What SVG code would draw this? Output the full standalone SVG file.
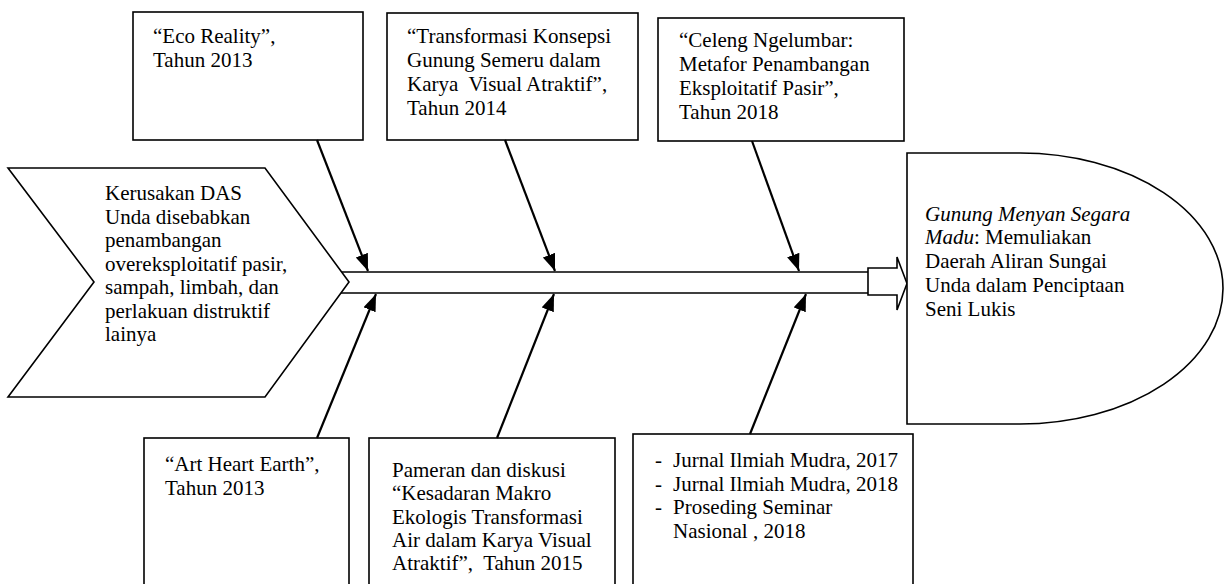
<svg xmlns="http://www.w3.org/2000/svg" width="1226" height="584" viewBox="0 0 1226 584">
<defs>
<marker id="ah" markerUnits="userSpaceOnUse" markerWidth="18" markerHeight="14" refX="17" refY="6.5" orient="auto">
<path d="M0,0 L17,6.5 L0,13 Z" fill="#000"/>
</marker>
<style>
.box{fill:#fff;stroke:#000;stroke-width:1.6}
.t{font-family:"Liberation Serif","Times New Roman",serif;font-size:21px;fill:#000;white-space:pre}
.c{stroke:#000;stroke-width:2.2;fill:none;marker-end:url(#ah)}
.sp{stroke:#000;stroke-width:1.6;fill:none}
</style>
</defs>
<rect width="1226" height="584" fill="#fff"/>

<g id="spine">
<path class="sp" d="M339,272 H868 M339,293 H868"/>
<path class="box" d="M868,268 H897 V257 L907,283.5 L897,310 V295 H868 Z"/>
</g>

<g id="cause">
<path class="box" d="M8,168 H265 L349,282 L265,397 H8 L94,282 Z"/>
<text class="t" x="105"><tspan x="105" y="200">Kerusakan DAS</tspan><tspan x="105" y="223.5">Unda disebabkan</tspan><tspan x="105" y="247">penambangan</tspan><tspan x="105" y="270.5">overeksploitatif pasir,</tspan><tspan x="105" y="294">sampah, limbah, dan</tspan><tspan x="105" y="317.5">perlakuan distruktif</tspan><tspan x="105" y="341">lainya</tspan></text>
</g>

<g id="result">
<path class="box" d="M907,153 H1020 A203,135.5 0 0 1 1020,424 H907 Z"/>
<text class="t"><tspan x="925" y="220.5" font-style="italic">Gunung Menyan Segara</tspan><tspan x="925" y="244.3"><tspan font-style="italic">Madu</tspan>: Memuliakan</tspan><tspan x="925" y="268.1">Daerah Aliran Sungai</tspan><tspan x="925" y="291.9">Unda dalam Penciptaan</tspan><tspan x="925" y="315.7">Seni Lukis</tspan></text>
</g>

<g id="box-eco-reality">
<rect class="box" x="133" y="12" width="230" height="128"/>
<text class="t"><tspan x="153" y="43">“Eco Reality”,</tspan><tspan x="153" y="67">Tahun 2013</tspan></text>
</g>

<g id="box-transformasi">
<rect class="box" x="387" y="13" width="251" height="127"/>
<text class="t"><tspan x="407" y="42.5">“Transformasi Konsepsi</tspan><tspan x="407" y="66.5">Gunung Semeru dalam</tspan><tspan x="407" y="90.5">Karya  Visual Atraktif”,</tspan><tspan x="407" y="114.5">Tahun 2014</tspan></text>
</g>

<g id="box-celeng">
<rect class="box" x="658" y="18" width="246" height="123"/>
<text class="t"><tspan x="679" y="47">“Celeng Ngelumbar:</tspan><tspan x="679" y="71">Metafor Penambangan</tspan><tspan x="679" y="95">Eksploitatif Pasir”,</tspan><tspan x="679" y="119">Tahun 2018</tspan></text>
</g>

<g id="box-art-heart-earth">
<rect class="box" x="144" y="438" width="205" height="170"/>
<text class="t"><tspan x="165" y="471">“Art Heart Earth”,</tspan><tspan x="165" y="495">Tahun 2013</tspan></text>
</g>

<g id="box-pameran">
<rect class="box" x="369" y="438" width="246" height="170"/>
<text class="t"><tspan x="392" y="477">Pameran dan diskusi</tspan><tspan x="392" y="500.3">“Kesadaran Makro</tspan><tspan x="392" y="523.5">Ekologis Transformasi</tspan><tspan x="392" y="546.8">Air dalam Karya Visual</tspan><tspan x="392" y="570">Atraktif”,  Tahun 2015</tspan></text>
</g>

<g id="box-jurnal">
<rect class="box" x="633" y="434" width="280" height="174"/>
<text class="t"><tspan x="655" y="467">-</tspan><tspan x="673" y="467">Jurnal Ilmiah Mudra, 2017</tspan><tspan x="655" y="490.5">-</tspan><tspan x="673" y="490.5">Jurnal Ilmiah Mudra, 2018</tspan><tspan x="655" y="514">-</tspan><tspan x="673" y="514">Proseding Seminar</tspan><tspan x="673" y="537.5">Nasional , 2018</tspan></text>
</g>

<g id="connectors">
<line class="c" x1="317" y1="140" x2="368" y2="271"/>
<line class="c" x1="505" y1="140" x2="555" y2="271"/>
<line class="c" x1="752" y1="141" x2="799" y2="271"/>
<line class="c" x1="317" y1="438" x2="376" y2="294"/>
<line class="c" x1="497" y1="438" x2="554" y2="294"/>
<line class="c" x1="750" y1="434" x2="806" y2="294"/>
</g>
</svg>
